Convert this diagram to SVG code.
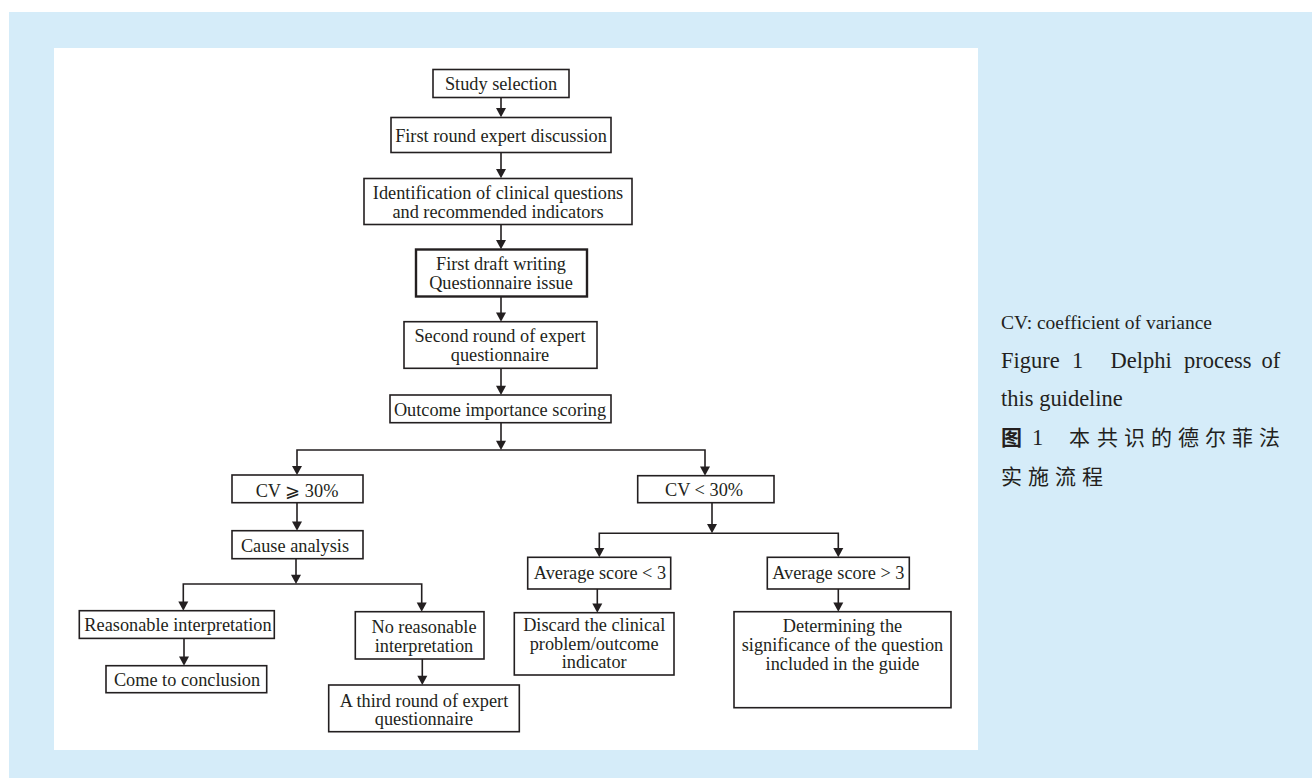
<svg xmlns="http://www.w3.org/2000/svg" width="1312" height="778" viewBox="0 0 1312 778">
<style>
.bg{fill:#d5ecf9}
.panel{fill:#ffffff}
.box{fill:#ffffff;stroke:#231f20;stroke-width:1.6}
.boxb{fill:#ffffff;stroke:#231f20;stroke-width:2.4}
.t{font-family:"Liberation Serif","Times New Roman",serif;font-size:18.3px;fill:#231f20;text-anchor:middle}
.ln{fill:none;stroke:#231f20;stroke-width:1.6}
.ah{fill:#231f20}
.cap{font-family:"Liberation Serif","Times New Roman",serif;fill:#231f20}
.zh{font-family:"Noto Sans CJK SC",sans-serif;fill:#231f20;font-size:21px}
</style>
<rect class="bg" x="9" y="12" width="1303" height="766"/>
<rect class="panel" x="54" y="48" width="924" height="702"/>

<g id="connectors">
<path class="ln" d="M501,97.7 V109"/><path class="ah" d="M496,108 L506,108 L501,117.3 Z"/>
<path class="ln" d="M501,152.3 V170"/><path class="ah" d="M496,169 L506,169 L501,178.3 Z"/>
<path class="ln" d="M501,224.3 V241"/><path class="ah" d="M496,240 L506,240 L501,249.3 Z"/>
<path class="ln" d="M501,296.7 V313"/><path class="ah" d="M496,312.4 L506,312.4 L501,321.7 Z"/>
<path class="ln" d="M501,368.3 V387"/><path class="ah" d="M496,385.7 L506,385.7 L501,395 Z"/>
<path class="ln" d="M501,422.7 V442"/><path class="ah" d="M496,440.7 L506,440.7 L501,450 Z"/>
<path class="ln" d="M297,467 V450 H705 V467"/>
<path class="ah" d="M292,466 L302,466 L297,475 Z"/>
<path class="ah" d="M700,466.5 L710,466.5 L705,475.7 Z"/>
<path class="ln" d="M297,502.7 V522"/><path class="ah" d="M292,521.4 L302,521.4 L297,530.7 Z"/>
<path class="ln" d="M296,558.7 V576"/><path class="ah" d="M291,574.7 L301,574.7 L296,584 Z"/>
<path class="ln" d="M183.3,602 V584 H421.7 V603"/>
<path class="ah" d="M178.3,601.4 L188.3,601.4 L183.3,610.7 Z"/>
<path class="ah" d="M416.7,602.4 L426.7,602.4 L421.7,611.7 Z"/>
<path class="ln" d="M184,638.3 V657"/><path class="ah" d="M179,656.4 L189,656.4 L184,665.7 Z"/>
<path class="ln" d="M422.3,659 V677"/><path class="ah" d="M417.3,675.7 L427.3,675.7 L422.3,685 Z"/>
<path class="ln" d="M712,502.7 V525"/><path class="ah" d="M707,524 L717,524 L712,533.3 Z"/>
<path class="ln" d="M599.3,549 V533.3 H838.3 V549"/>
<path class="ah" d="M594.3,548 L604.3,548 L599.3,557.3 Z"/>
<path class="ah" d="M833.3,548 L843.3,548 L838.3,557.3 Z"/>
<path class="ln" d="M597.3,589 V605"/><path class="ah" d="M592.3,603.4 L602.3,603.4 L597.3,612.7 Z"/>
<path class="ln" d="M838.3,589 V604"/><path class="ah" d="M833.3,602.4 L843.3,602.4 L838.3,611.7 Z"/>
</g>

<g id="study-selection">
<rect class="box" x="433" y="69.5" width="136" height="28"/>
<text class="t" x="501" y="89.5">Study selection</text>
</g>
<g id="first-round">
<rect class="box" x="391" y="117.5" width="220" height="35"/>
<text class="t" x="501" y="141.5">First round expert discussion</text>
</g>
<g id="identification">
<rect class="box" x="364" y="178.5" width="268" height="46"/>
<text class="t" x="498" y="198.5">Identification of clinical questions</text>
<text class="t" x="498" y="217.5">and recommended indicators</text>
</g>
<g id="first-draft">
<rect class="boxb" x="416" y="249.5" width="171" height="47"/>
<text class="t" x="501" y="269.5">First draft writing</text>
<text class="t" x="501" y="288.5">Questionnaire issue</text>
</g>
<g id="second-round">
<rect class="box" x="404" y="321.7" width="193" height="46.6"/>
<text class="t" x="500" y="341.7">Second round of expert</text>
<text class="t" x="500" y="360.7">questionnaire</text>
</g>
<g id="outcome">
<rect class="box" x="390" y="395" width="221" height="27.7"/>
<text class="t" x="500" y="416">Outcome importance scoring</text>
</g>
<g id="cv-ge-30">
<rect class="box" x="232" y="475" width="131" height="27.7"/>
<text class="t" x="297" y="496.5">CV ⩾ 30%</text>
</g>
<g id="cause-analysis">
<rect class="box" x="232" y="530.7" width="131" height="28"/>
<text class="t" x="295" y="552">Cause analysis</text>
</g>
<g id="reasonable">
<rect class="box" x="79.3" y="610.7" width="195" height="27.7"/>
<text class="t" x="178" y="630.5">Reasonable interpretation</text>
</g>
<g id="conclusion">
<rect class="box" x="106" y="665.7" width="160.7" height="27"/>
<text class="t" x="187" y="685.5">Come to conclusion</text>
</g>
<g id="no-reasonable">
<rect class="box" x="355.3" y="611.7" width="128.7" height="47.3"/>
<text class="t" x="424" y="632.5">No reasonable</text>
<text class="t" x="424" y="651.5">interpretation</text>
</g>
<g id="third-round">
<rect class="box" x="328.7" y="685" width="190.6" height="46.7"/>
<text class="t" x="424" y="706.5">A third round of expert</text>
<text class="t" x="424" y="724.5">questionnaire</text>
</g>
<g id="cv-lt-30">
<rect class="box" x="637.7" y="475.7" width="136.3" height="27"/>
<text class="t" x="704" y="495.7">CV &lt; 30%</text>
</g>
<g id="avg-lt-3">
<rect class="box" x="527.7" y="557.3" width="143" height="31.7"/>
<text class="t" x="600" y="578.5">Average score &lt; 3</text>
</g>
<g id="avg-gt-3">
<rect class="box" x="767.3" y="557.3" width="142" height="31.7"/>
<text class="t" x="838.3" y="578.5">Average score &gt; 3</text>
</g>
<g id="discard">
<rect class="box" x="514.3" y="612.7" width="159.7" height="62.3"/>
<text class="t" x="594.2" y="630.7">Discard the clinical</text>
<text class="t" x="594.2" y="649.5">problem/outcome</text>
<text class="t" x="594.2" y="667.5">indicator</text>
</g>
<g id="determining">
<rect class="box" x="734" y="611.7" width="217" height="96"/>
<text class="t" x="842.5" y="631.5">Determining the</text>
<text class="t" x="842.5" y="650.5">significance of the question</text>
<text class="t" x="842.5" y="669.5">included in the guide</text>
</g>

<g id="caption">
<text class="cap" x="1001" y="329" font-size="19.5">CV: coefficient of variance</text>
<text class="cap" font-size="22.5" y="367.5"><tspan x="1001">Figure</tspan><tspan x="1072">1</tspan><tspan x="1110.5">Delphi</tspan><tspan x="1184">process</tspan><tspan x="1261.5">of</tspan></text>
<text class="cap" x="1001" y="406" font-size="22.5">this guideline</text>
<text class="zh" x="1001" y="445" font-weight="bold">图</text>
<text class="cap" x="1032" y="445" font-size="22.5">1</text>
<text class="zh" y="445" x="1069 1097 1124 1151 1178 1205 1232 1259">本共识的德尔菲法</text>
<text class="zh" y="484" x="1001 1028 1055 1082">实施流程</text>
</g>
</svg>
